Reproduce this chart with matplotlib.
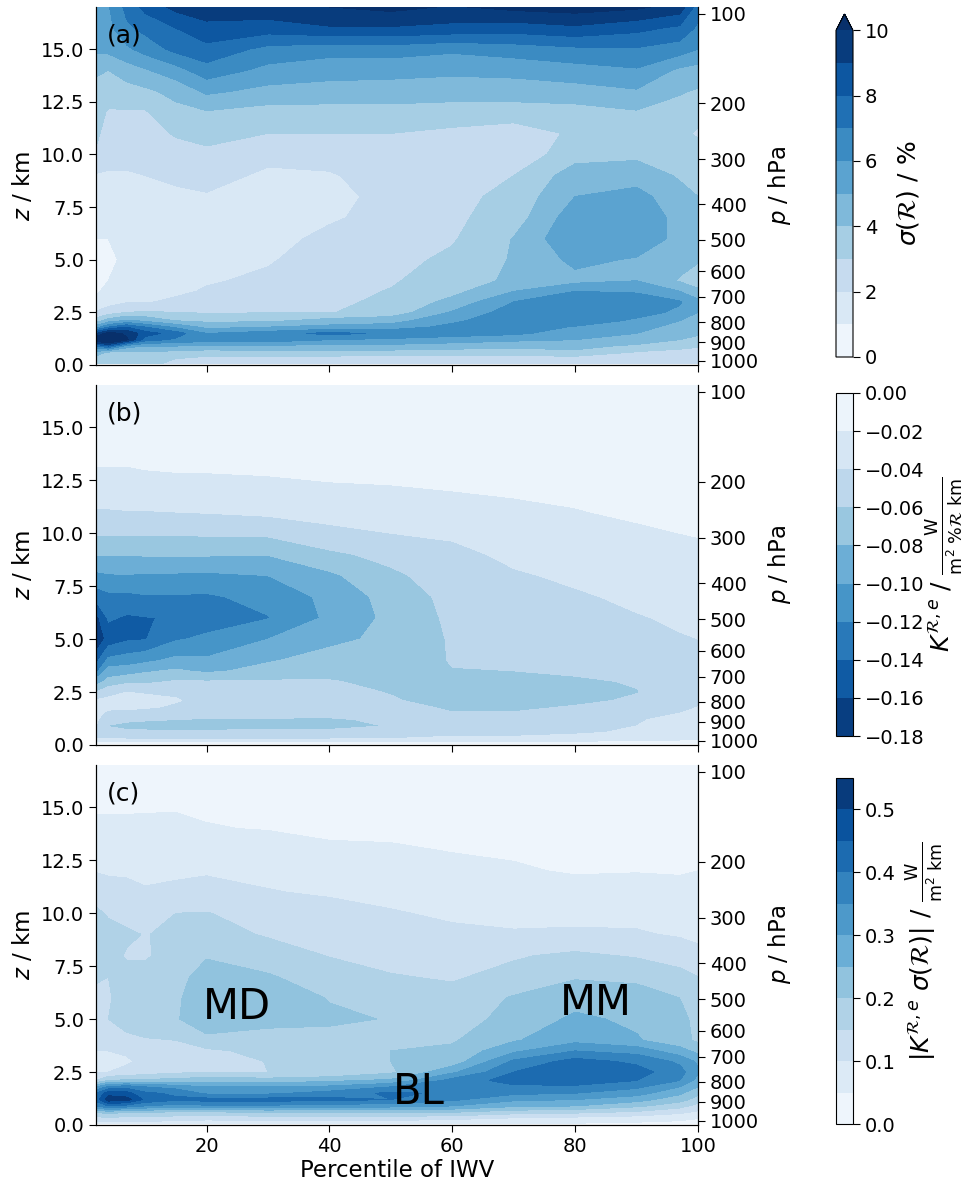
import numpy as np
import matplotlib
matplotlib.use('Agg')
import matplotlib.pyplot as plt

# ---------------------------------------------------------------------------
# DATA
# ---------------------------------------------------------------------------

PERCENTILE = [2, 4, 7, 10, 15, 20, 30, 40, 50, 60, 70, 80, 90, 97, 100]

# height levels, top to bottom; the columns below follow this order
Z_KM = [17, 16, 15, 14, 13, 12, 11, 10, 9, 8, 7, 6, 5, 4, 3.5, 3, 2.5, 2.1, 1.8, 1.5, 1.2, 0.9, 0.6, 0.3, 0.05]

# sigma(R) in %, one list per percentile
SIGMA_COLS = [
    [5.9, 5.6, 5.2, 4.1, 3.8, 3.4, 3.2, 2.9, 1.9, 1.5, 1.3, 1.0, 0.9, 0.8, 0.9, 1.2, 2.1, 3.5, 5.5, 9.0, 11.0, 7.0, 4.6, 3.5, 3.2],
    [5.9, 5.7, 5.3, 4.0, 3.5, 2.9, 2.6, 2.3, 1.9, 1.6, 1.3, 1.0, 0.9, 1.0, 1.2, 1.6, 2.5, 4.5, 7.0, 10.5, 12.0, 8.0, 3.8, 3.2, 3.0],
    [7.3, 6.8, 5.8, 4.5, 3.6, 2.9, 2.6, 2.3, 1.9, 1.6, 1.3, 1.1, 1.1, 1.3, 1.4, 1.9, 3.0, 5.2, 8.0, 9.8, 10.2, 5.5, 3.7, 3.5, 3.2],
    [8.3, 7.3, 6.4, 4.9, 3.8, 2.9, 2.6, 2.3, 2.0, 1.7, 1.4, 1.2, 1.2, 1.4, 1.5, 1.9, 3.1, 4.8, 7.0, 8.5, 7.5, 5.0, 3.8, 3.4, 3.2],
    [9.3, 8.0, 7.3, 5.6, 4.3, 3.7, 3.1, 2.6, 2.2, 1.8, 1.5, 1.2, 1.3, 1.5, 1.8, 2.2, 3.0, 4.0, 5.8, 7.5, 6.8, 5.0, 3.7, 3.0, 2.8],
    [9.6, 8.7, 7.7, 6.6, 5.2, 3.9, 3.3, 2.8, 2.4, 1.9, 1.6, 1.5, 1.6, 1.9, 2.1, 2.4, 2.9, 3.8, 4.7, 6.0, 6.5, 4.8, 3.5, 2.7, 2.6],
    [9.7, 8.5, 6.7, 5.7, 4.7, 3.6, 3.0, 2.3, 1.8, 1.5, 1.4, 1.6, 1.9, 2.2, 2.4, 2.6, 2.95, 3.8, 5.0, 6.5, 6.6, 4.8, 3.6, 2.6, 2.5],
    [10.0, 8.9, 6.4, 5.4, 4.6, 3.6, 3.0, 2.4, 1.9, 1.6, 1.85, 2.3, 2.5, 2.6, 2.7, 2.8, 2.95, 4.4, 5.3, 7.3, 6.0, 4.7, 3.7, 2.5, 2.4],
    [10.3, 8.9, 6.5, 5.3, 4.6, 3.6, 3.0, 2.7, 2.5, 2.4, 2.4, 2.5, 2.7, 2.9, 3.05, 3.2, 3.4, 4.6, 5.5, 6.8, 5.8, 4.7, 3.6, 2.5, 2.3],
    [9.9, 8.7, 6.2, 5.2, 4.5, 3.5, 2.8, 2.7, 2.7, 2.7, 2.8, 2.9, 3.2, 3.5, 3.7, 4.3, 5.1, 5.8, 6.3, 6.5, 5.5, 4.5, 3.5, 2.5, 2.3],
    [10.3, 8.5, 6.5, 5.3, 4.5, 3.5, 2.5, 2.3, 3.0, 3.3, 3.5, 4.05, 4.1, 4.2, 5.0, 6.0, 6.5, 6.7, 6.6, 6.2, 5.2, 4.3, 3.4, 2.6, 2.3],
    [10.5, 8.8, 6.8, 5.6, 4.6, 3.6, 3.15, 3.6, 4.5, 5.0, 5.6, 5.9, 5.25, 4.7, 6.0, 6.7, 6.95, 6.6, 5.9, 5.5, 5.0, 4.3, 3.8, 2.5, 2.3],
    [10.2, 8.3, 6.9, 5.9, 4.9, 3.9, 3.3, 3.8, 4.5, 5.4, 5.9, 5.7, 4.9, 5.0, 5.9, 6.5, 6.4, 5.8, 5.4, 5.0, 4.6, 3.8, 2.9, 2.4, 2.3],
    [9.6, 7.8, 6.5, 4.8, 4.1, 3.6, 3.2, 3.4, 3.9, 4.3, 4.6, 4.7, 4.4, 3.9, 5.0, 6.1, 5.8, 5.0, 4.6, 4.3, 4.0, 3.3, 2.7, 2.3, 2.2],
    [7.5, 6.8, 6.0, 4.6, 3.9, 3.3, 2.9, 3.3, 3.6, 4.0, 4.3, 4.4, 4.1, 3.5, 4.2, 5.3, 5.0, 4.6, 4.3, 4.1, 3.8, 3.1, 2.6, 2.3, 2.2],
]

# magnitude of K^{R,e}, drawn as negative values
KERNEL_COLS = [
    [.003, .006, .010, .015, .021, .030, .042, .058, .079, .105, .132, .168, .178, .147, .127, .090, .060, .038, .036, .036, .037, .040, .043, .041, .012],
    [.003, .006, .010, .015, .021, .029, .042, .058, .079, .102, .125, .137, .152, .115, .090, .074, .046, .036, .037, .043, .052, .061, .052, .041, .012],
    [.003, .006, .010, .015, .021, .028, .041, .058, .079, .101, .125, .143, .143, .110, .090, .065, .040, .036, .037, .044, .056, .066, .055, .042, .012],
    [.003, .005, .009, .014, .020, .027, .041, .058, .078, .103, .122, .141, .141, .105, .083, .065, .041, .037, .038, .046, .058, .067, .056, .042, .012],
    [.003, .005, .009, .014, .019, .027, .040, .058, .078, .103, .122, .138, .122, .095, .077, .058, .042, .039, .042, .048, .060, .068, .056, .042, .012],
    [.003, .005, .009, .014, .019, .026, .039, .057, .078, .104, .123, .130, .116, .097, .084, .059, .046, .044, .046, .051, .062, .068, .056, .042, .012],
    [.003, .005, .008, .012, .018, .025, .036, .056, .079, .100, .113, .121, .100, .082, .073, .058, .052, .050, .050, .053, .062, .067, .055, .042, .012],
    [.002, .004, .007, .011, .016, .023, .033, .045, .064, .084, .095, .096, .085, .072, .068, .0585, .054, .052, .052, .055, .062, .066, .055, .042, .012],
    [.002, .004, .006, .010, .015, .022, .031, .040, .054, .064, .072, .075, .075, .070, .068, .066, .061, .058, .052, .052, .057, .059, .050, .040, .012],
    [.002, .003, .005, .008, .013, .020, .028, .037, .045, .050, .054, .056, .058, .059, .0605, .066, .069, .068, .064, .059, .052, .050, .045, .037, .012],
    [.002, .003, .005, .008, .012, .018, .024, .030, .036, .042, .047, .050, .052, .056, .060, .068, .073, .072, .066, .058, .050, .047, .045, .037, .012],
    [.002, .003, .004, .007, .011, .016, .021, .027, .032, .037, .042, .046, .048, .052, .056, .064, .068, .066, .058, .052, .046, .044, .042, .035, .012],
    [.002, .003, .004, .006, .009, .012, .017, .023, .028, .033, .037, .041, .045, .050, .054, .058, .061, .056, .050, .046, .041, .040, .038, .032, .012],
    [.002, .002, .003, .005, .007, .010, .015, .020, .025, .030, .034, .038, .041, .045, .047, .048, .048, .045, .043, .040, .037, .036, .034, .028, .010],
    [.002, .002, .003, .005, .007, .010, .014, .019, .024, .029, .032, .036, .040, .043, .044, .044, .044, .042, .040, .038, .035, .034, .032, .025, .010],
]

# |K sigma| in W / (m2 km)
FLUX_COLS = [
    [.020, .030, .045, .060, .080, .098, .125, .160, .170, .170, .155, .140, .140, .120, .100, .090, .100, .150, .300, .400, .420, .350, .200, .130, .070],
    [.020, .030, .045, .060, .080, .095, .115, .145, .165, .165, .150, .145, .150, .130, .100, .085, .100, .200, .360, .480, .530, .400, .220, .130, .070],
    [.020, .030, .045, .060, .080, .095, .110, .135, .157, .146, .165, .170, .175, .135, .105, .095, .110, .210, .380, .470, .520, .380, .200, .130, .070],
    [.020, .030, .046, .060, .080, .095, .102, .130, .148, .145, .165, .175, .185, .145, .115, .110, .125, .210, .350, .410, .440, .350, .200, .130, .070],
    [.020, .030, .047, .060, .080, .096, .105, .150, .160, .168, .180, .190, .195, .150, .125, .120, .140, .220, .330, .390, .410, .330, .190, .120, .070],
    [.020, .030, .045, .052, .075, .096, .113, .152, .170, .195, .225, .240, .235, .185, .140, .125, .145, .230, .300, .340, .420, .340, .190, .110, .070],
    [.010, .020, .035, .048, .070, .090, .102, .130, .145, .175, .205, .235, .215, .180, .165, .152, .150, .220, .300, .340, .420, .340, .200, .120, .060],
    [.008, .015, .025, .040, .058, .080, .095, .115, .130, .148, .175, .197, .210, .180, .165, .155, .150, .240, .310, .370, .415, .330, .200, .120, .060],
    [.006, .012, .020, .040, .055, .070, .085, .104, .120, .135, .153, .175, .197, .190, .200, .200, .190, .260, .350, .410, .400, .320, .200, .120, .060],
    [.005, .010, .017, .028, .048, .062, .080, .092, .110, .125, .145, .165, .180, .195, .210, .220, .290, .370, .390, .390, .360, .300, .200, .110, .050],
    [.004, .009, .015, .025, .044, .055, .070, .085, .105, .145, .165, .205, .215, .245, .290, .360, .400, .420, .390, .360, .310, .260, .170, .090, .050],
    [.004, .008, .014, .024, .037, .046, .068, .085, .108, .160, .195, .230, .260, .285, .350, .420, .450, .430, .390, .350, .300, .250, .160, .080, .045],
    [.004, .008, .014, .024, .037, .048, .070, .086, .105, .145, .190, .220, .240, .255, .330, .390, .420, .400, .360, .320, .270, .210, .140, .070, .040],
    [.004, .008, .014, .024, .037, .046, .065, .080, .095, .130, .165, .200, .215, .220, .270, .340, .370, .350, .300, .260, .220, .170, .110, .060, .035],
    [.004, .008, .014, .024, .037, .050, .062, .075, .088, .115, .150, .175, .185, .190, .235, .290, .310, .280, .250, .210, .180, .130, .090, .050, .030],
]

SIGMA_LEVELS = np.arange(0, 10.5, 1)
KERNEL_LEVELS = np.arange(-0.18, 0.001, 0.02)
FLUX_LEVELS = np.arange(0, 0.551, 0.05)

SIGMA_TICKS = [0, 2, 4, 6, 8, 10]
KERNEL_TICKS = np.arange(-0.18, 0.001, 0.02)
FLUX_TICKS = [0, 0.1, 0.2, 0.3, 0.4, 0.5]

X_TICKS = [20, 40, 60, 80, 100]
Z_TICKS = [0, 2.5, 5, 7.5, 10, 12.5, 15]

# pressure ticks on the right axis and their heights in km
P_LABELS = [100, 200, 300, 400, 500, 600, 700, 800, 900, 1000]
P_HEIGHTS = [16.67, 12.44, 9.78, 7.64, 5.94, 4.46, 3.23, 2.04, 1.09, 0.19]

PANEL_LABELS = ['(a)', '(b)', '(c)']
REGIONS = ['MD', 'MM', 'BL']
REGION_X = [25, 83.3, 54.6]
REGION_Z = [5.0, 5.2, 1.0]

W, H = 971, 1187
TICK_FS = 14
LABEL_FS = 16.5
CBAR_FS = 18


def px_axes(fig, x0, y0, x1, y1):
    """Axes from pixel corners, y counted from the top of the image."""
    return fig.add_axes([x0 / W, 1 - y1 / H, (x1 - x0) / W, (y1 - y0) / H])


def draw_panel(fig, box, cbox, cols, levels, cmap, ticks, cb_label, letter, cb_pad, extend='neither', bottom=False):
    ax = px_axes(fig, *box)
    values = np.array(cols).T[::-1]
    z = np.array(Z_KM)[::-1]
    cf = ax.contourf(PERCENTILE, z, values, levels=levels, cmap=cmap, extend=extend)
    ax.set_xlim(2, 100)
    ax.set_ylim(0, 17)
    ax.set_xticks(X_TICKS)
    ax.set_yticks(Z_TICKS)
    ax.set_yticklabels(['%.1f' % t for t in Z_TICKS])
    ax.tick_params(labelsize=TICK_FS, labelbottom=bottom, length=5)
    ax.set_ylabel('$z$ / km', fontsize=LABEL_FS, labelpad=4)
    ax.spines['top'].set_visible(False)
    ax.text(0.018, 0.90, letter, transform=ax.transAxes, fontsize=18)

    ax2 = ax.twinx()
    ax2.set_ylim(0, 17)
    ax2.set_yticks(P_HEIGHTS)
    ax2.set_yticklabels([str(p) for p in P_LABELS])
    ax2.tick_params(labelsize=TICK_FS, length=5)
    ax2.set_ylabel('$p$ / hPa', fontsize=LABEL_FS, labelpad=5)
    ax2.spines['top'].set_visible(False)

    cax = px_axes(fig, *cbox)
    cb = fig.colorbar(cf, cax=cax, ticks=ticks, extendfrac=0.05)
    cb.ax.tick_params(labelsize=TICK_FS, length=5)
    cb.set_label(cb_label, fontsize=CBAR_FS, labelpad=cb_pad)
    return ax


fig = plt.figure(figsize=(W / 100, H / 100), dpi=100)

draw_panel(fig, (96, 7, 698, 365), (836, 14, 853, 357), SIGMA_COLS, SIGMA_LEVELS, 'Blues',
           SIGMA_TICKS, r'$\sigma(\mathcal{R})$ / %', PANEL_LABELS[0], 4, extend='max')

draw_panel(fig, (96, 385, 698, 745), (836, 393, 853, 736), -np.array(KERNEL_COLS), KERNEL_LEVELS, 'Blues_r',
           KERNEL_TICKS, r'$K^{\mathcal{R},e}$ / $\frac{\mathrm{W}}{\mathrm{m}^2\ \%\mathcal{R}\ \mathrm{km}}$',
           PANEL_LABELS[1], 0)

ax_c = draw_panel(fig, (96, 765, 698, 1125), (836, 778, 853, 1124), FLUX_COLS, FLUX_LEVELS, 'Blues',
                  FLUX_TICKS, r'$|K^{\mathcal{R},e}\ \sigma(\mathcal{R})|$ / $\frac{\mathrm{W}}{\mathrm{m}^2\ \mathrm{km}}$',
                  PANEL_LABELS[2], 6, bottom=True)
ax_c.set_xlabel('Percentile of IWV', fontsize=LABEL_FS, labelpad=2)
for name, xr, zr in zip(REGIONS, REGION_X, REGION_Z):
    ax_c.text(xr, zr, name, fontsize=30, ha='center', va='baseline')

fig.savefig('out.png', dpi=100)
